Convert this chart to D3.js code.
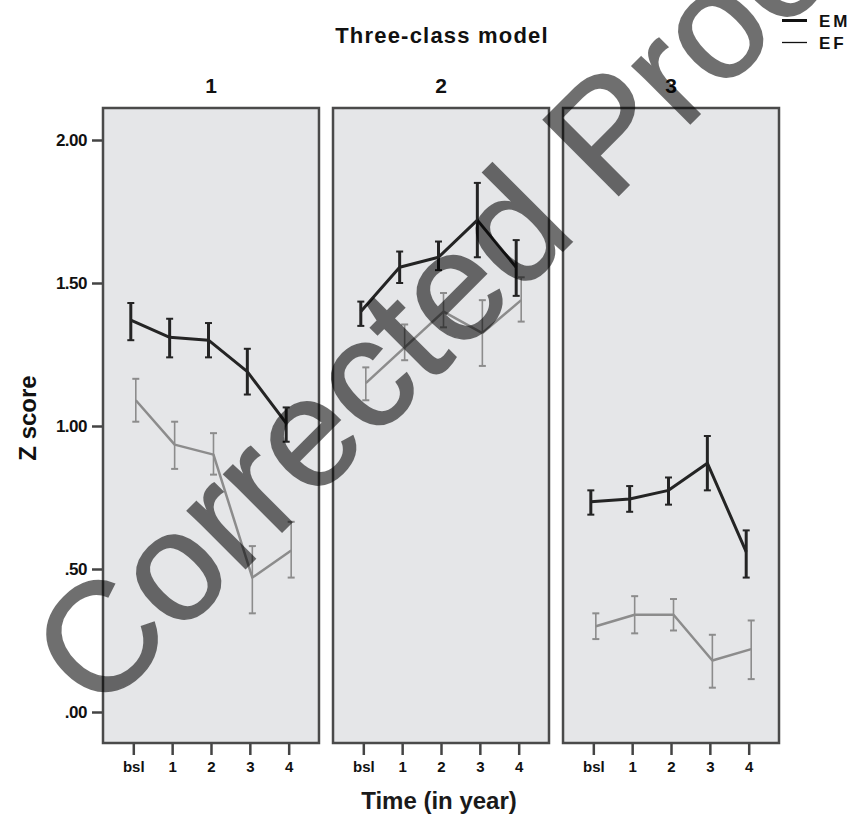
<!DOCTYPE html>
<html>
<head>
<meta charset="utf-8">
<script src="https://cdn.jsdelivr.net/npm/d3@7"></script>
<style>
  body { margin: 0; background: #fff; }
  svg text { font-family: "Liberation Sans", Arial, sans-serif; }
</style>
</head>
<body>
<div id="chart"></div>
<script>
// classes (panels) and time points
const classes = ['1', '2', '3'];
const times = ['bsl', '1', '2', '3', '4'];

// EM: means and error bar ends, one row per class
const emMean = [
  [1.37, 1.31, 1.30, 1.19, 1.01],
  [1.40, 1.555, 1.59, 1.72, 1.555],
  [0.735, 0.745, 0.775, 0.87, 0.56]
];
const emLow = [
  [1.30, 1.24, 1.24, 1.11, 0.945],
  [1.35, 1.50, 1.545, 1.59, 1.455],
  [0.69, 0.70, 0.725, 0.775, 0.47]
];
const emHigh = [
  [1.43, 1.375, 1.36, 1.27, 1.065],
  [1.435, 1.61, 1.645, 1.85, 1.65],
  [0.775, 0.79, 0.82, 0.965, 0.635]
];

// EF
const efMean = [
  [1.09, 0.935, 0.90, 0.47, 0.565],
  [1.15, 1.275, 1.40, 1.325, 1.44],
  [0.30, 0.34, 0.34, 0.18, 0.22]
];
const efLow = [
  [1.015, 0.85, 0.83, 0.345, 0.47],
  [1.09, 1.23, 1.345, 1.21, 1.365],
  [0.255, 0.275, 0.285, 0.085, 0.115]
];
const efHigh = [
  [1.165, 1.015, 0.975, 0.58, 0.665],
  [1.205, 1.355, 1.465, 1.44, 1.52],
  [0.345, 0.405, 0.395, 0.27, 0.32]
];

const yTicks = [0, 0.5, 1, 1.5, 2];

const width = 852, height = 817;
const panelTop = 108, panelBottom = 743;

const svg = d3.select('#chart').append('svg')
  .attr('width', width)
  .attr('height', height);

const panel = d3.scaleBand()
  .domain(classes)
  .range([103, 779])
  .paddingInner(0.061);

const y = d3.scaleLinear()
  .domain([0, 2])
  .range([712, 140]);

const series = [
  { name: 'EM', mean: emMean, lo: emLow, hi: emHigh, color: '#242424', width: 3, barW: 3, cap: 3.5, dx: -2.5 },
  { name: 'EF', mean: efMean, lo: efLow, hi: efHigh, color: '#8c8c8c', width: 2.5, barW: 1.6, cap: 3.5, dx: 2.5 }
];

// title
svg.append('text')
  .attr('x', 442).attr('y', 43)
  .attr('text-anchor', 'middle')
  .attr('font-size', 22).attr('font-weight', 'bold')
  .attr('letter-spacing', 1.2)
  .attr('fill', '#111')
  .text('Three-class model');

classes.forEach(function(c, ci) {
  const x0 = panel(c), bw = panel.bandwidth();
  const x = d3.scalePoint().domain(times).range([x0, x0 + bw]).padding(0.78);

  const g = svg.append('g');

  g.append('rect')
    .attr('x', x0).attr('y', panelTop)
    .attr('width', bw).attr('height', panelBottom - panelTop)
    .attr('fill', '#e5e6e8')
    .attr('stroke', '#4a4a4a')
    .attr('stroke-width', 2.5);

  // panel label
  svg.append('text')
    .attr('x', x0 + bw / 2).attr('y', 93)
    .attr('text-anchor', 'middle')
    .attr('font-size', 21).attr('font-weight', 'bold')
    .attr('fill', '#111')
    .text(c);

  // x axis
  const ax = g.append('g')
    .attr('transform', 'translate(0,' + (panelBottom + 1) + ')')
    .call(d3.axisBottom(x).tickSize(11).tickPadding(6));
  ax.select('.domain').remove();
  ax.selectAll('.tick line').attr('stroke', '#444').attr('stroke-width', 2.5);
  ax.selectAll('.tick text')
    .attr('font-size', 15).attr('font-weight', 'bold').attr('fill', '#111')
    .attr('font-family', '"Liberation Sans", Arial, sans-serif');

  series.forEach(function(s) {
    const pts = times.map(function(t, i) {
      return { t: t, m: s.mean[ci][i], lo: s.lo[ci][i], hi: s.hi[ci][i] };
    });
    const line = d3.line()
      .x(function(d) { return x(d.t) + s.dx; })
      .y(function(d) { return y(d.m); });

    g.append('path')
      .datum(pts)
      .attr('d', line)
      .attr('fill', 'none')
      .attr('stroke', s.color)
      .attr('stroke-width', s.width)
      .attr('stroke-linejoin', 'round');

    const eb = g.selectAll('.eb-' + s.name)
      .data(pts).enter().append('g')
      .attr('class', 'eb-' + s.name)
      .attr('stroke', s.color);
    eb.append('line')
      .attr('x1', function(d) { return x(d.t) + s.dx; })
      .attr('x2', function(d) { return x(d.t) + s.dx; })
      .attr('y1', function(d) { return y(d.lo); })
      .attr('y2', function(d) { return y(d.hi); })
      .attr('stroke-width', s.barW);
    ['lo', 'hi'].forEach(function(k) {
      eb.append('line')
        .attr('x1', function(d) { return x(d.t) + s.dx - s.cap; })
        .attr('x2', function(d) { return x(d.t) + s.dx + s.cap; })
        .attr('y1', function(d) { return y(d[k]); })
        .attr('y2', function(d) { return y(d[k]); })
        .attr('stroke-width', 2);
    });
  });
});

// y axis on the first panel
const yAx = svg.append('g')
  .attr('transform', 'translate(' + (panel(classes[0]) - 1) + ',0)')
  .call(d3.axisLeft(y).tickValues(yTicks).tickSize(10).tickPadding(5)
    .tickFormat(function(d) { return d3.format('.2f')(d).replace(/^0/, ''); }));
yAx.select('.domain').remove();
yAx.selectAll('.tick line').attr('stroke', '#444').attr('stroke-width', 2.5);
yAx.selectAll('.tick text')
  .attr('font-size', 17).attr('font-weight', 'bold').attr('fill', '#111')
  .attr('letter-spacing', -0.5)
  .attr('font-family', '"Liberation Sans", Arial, sans-serif');

svg.append('text')
  .attr('transform', 'translate(36,418) rotate(-90)')
  .attr('text-anchor', 'middle')
  .attr('font-size', 24).attr('font-weight', 'bold')
  .attr('fill', '#111')
  .text('Z score');

svg.append('text')
  .attr('x', 439).attr('y', 809)
  .attr('text-anchor', 'middle')
  .attr('font-size', 24).attr('font-weight', 'bold')
  .attr('fill', '#1a1a1a')
  .text('Time (in year)');

// legend
const leg = svg.append('g');
series.forEach(function(s, i) {
  leg.append('line')
    .attr('x1', 782).attr('x2', 807)
    .attr('y1', 20.5 + i * 22).attr('y2', 20.5 + i * 22)
    .attr('stroke', '#111')
    .attr('stroke-width', i === 0 ? 3 : 1.3);
  leg.append('text')
    .attr('x', 819).attr('y', 27 + i * 22)
    .attr('font-size', 17).attr('font-weight', 'bold')
    .attr('letter-spacing', 3)
    .attr('fill', '#111')
    .text(s.name);
});

// proof watermark
svg.append('g')
  .attr('opacity', 0.56)
  .append('text')
  .attr('transform', 'translate(98,716) rotate(-45)')
  .attr('font-size', 155)
  .attr('fill', '#000')
  .attr('stroke', '#000')
  .attr('stroke-width', 1.6)
  .text('Corrected Proof');
</script>
</body>
</html>
